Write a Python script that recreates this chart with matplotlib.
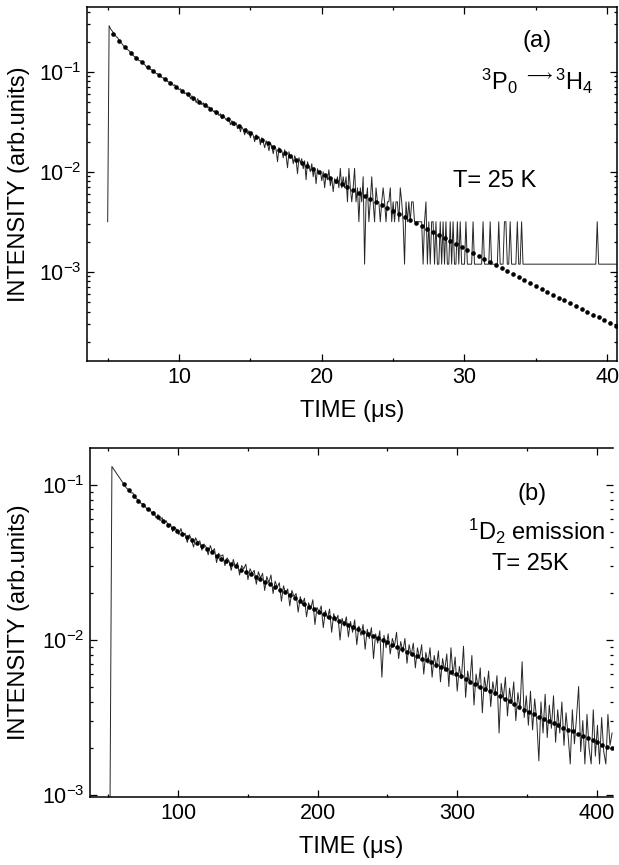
import numpy as np
import matplotlib.pyplot as plt
from matplotlib.ticker import MultipleLocator, LogLocator, NullFormatter

plt.rcParams['font.family'] = ['Liberation Sans', 'DejaVu Sans']
plt.rcParams['mathtext.fontset'] = 'custom'
plt.rcParams['mathtext.rm'] = 'Liberation Sans'
plt.rcParams['mathtext.it'] = 'Liberation Sans:italic'
plt.rcParams['mathtext.bf'] = 'Liberation Sans:bold'
plt.rcParams['axes.unicode_minus'] = False

# ---- panel (a): 3P0 -> 3H4, T = 25 K ----
# measured trace, sampled every 0.1 us from 5.0 us (log10 of intensity) ...
trace_a_start, trace_a_step = 5.0, 0.1
trace_a_log = [
    -2.50, -0.54, -0.57, -0.59, -0.61, -0.63, -0.65, -0.66, -0.69, -0.70,
    -0.72, -0.74, -0.75, -0.77, -0.78, -0.79, -0.81, -0.82, -0.84, -0.85,
    -0.86, -0.87, -0.89, -0.89, -0.91, -0.92, -0.93, -0.95, -0.95, -0.96,
    -0.98, -0.98, -1.00, -1.00, -1.02, -1.02, -1.04, -1.04, -1.06, -1.06,
    -1.08, -1.07, -1.10, -1.10, -1.12, -1.11, -1.14, -1.13, -1.16, -1.16,
    -1.18, -1.17, -1.20, -1.19, -1.22, -1.21, -1.24, -1.23, -1.27, -1.24,
    -1.29, -1.26, -1.31, -1.27, -1.30, -1.30, -1.33, -1.31, -1.35, -1.32,
    -1.36, -1.35, -1.39, -1.36, -1.40, -1.39, -1.43, -1.40, -1.44, -1.42,
    -1.47, -1.43, -1.46, -1.48, -1.49, -1.47, -1.53, -1.49, -1.52, -1.54,
    -1.51, -1.57, -1.53, -1.60, -1.55, -1.58, -1.63, -1.57, -1.62, -1.59,
    -1.66, -1.60, -1.64, -1.70, -1.63, -1.67, -1.65, -1.73, -1.66, -1.70,
    -1.76, -1.69, -1.72, -1.79, -1.71, -1.75, -1.82, -1.74, -1.78, -1.90,
    -1.76, -1.81, -1.79, -1.86, -1.78, -1.84, -1.96, -1.80, -1.86, -1.83,
    -1.92, -1.84, -1.88, -2.02, -1.86, -1.91, -1.87, -1.97, -1.89, -2.08,
    -1.90, -1.95, -2.00, -1.92, -2.05, -1.96, -2.12, -1.97, -2.02, -1.99,
    -2.09, -2.00, -2.16, -2.03, -2.08, -1.98, -2.14, -2.06, -2.20, -2.07,
    -2.12,
]
# ... then the photon-counting levels from 21.1 us on
count_levels_a = [1.19e-3, 3.16e-3, 5.0e-3, 6.9e-3, 8.9e-3, 1.08e-2]
trace_a_level = [
    5, 4, 6, 4, 5, 4, 5, 3, 6,
    4, 3, 4, 6, 3, 4, 2, 4, 3, 5,
    1, 3, 4, 2, 3, 5, 3, 2, 4, 3,
    3, 2, 3, 4, 3, 2, 3, 3, 4, 2,
    3, 2, 3, 3, 2, 4, 3, 2, 1, 3,
    2, 3, 2, 3, 3, 2, 2, 2, 2, 2,
    2, 1, 2, 3, 1, 2, 1, 2, 2, 1,
    2, 1, 1, 2, 1, 2, 1, 2, 1, 1,
    2, 1, 2, 1, 1, 2, 1, 2, 1, 1,
    1, 2, 1, 1, 1, 1, 2, 1, 1, 1,
    1, 1, 1, 2, 1, 1, 1, 1, 2, 1,
    1, 1, 1, 1, 2, 1, 1, 1, 2, 2,
    1, 1, 2, 1, 1, 1, 1, 2, 1, 1,
    2, 1, 1, 1, 1, 1, 1, 1, 1, 1,
    1, 1, 1, 1, 1, 1, 1, 1, 1, 1,
    1, 1, 1, 1, 1, 1, 1, 1, 1, 1,
    1, 1, 1, 1, 1, 1, 1, 1, 1, 1,
    1, 1, 1, 1, 1, 1, 1, 1, 1, 1,
    1, 1, 1, 2, 1, 1, 1, 1, 1, 1,
    1, 1, 1, 1, 1, 1, 1, 1,
]
# fit (dots), every 0.4 us from 5.4 us, log10 of intensity
fit_a_start, fit_a_step = 5.4, 0.4
fit_a_log = [
    -0.62, -0.69, -0.755, -0.81, -0.86, -0.905, -0.95, -0.99, -1.03, -1.07,
    -1.11, -1.15, -1.19, -1.225, -1.26, -1.30, -1.335, -1.37, -1.405, -1.44,
    -1.475, -1.51, -1.545, -1.58, -1.615, -1.65, -1.68, -1.715, -1.75, -1.78,
    -1.815, -1.845, -1.88, -1.91, -1.94, -1.975, -2.005, -2.035, -2.065, -2.095,
    -2.125, -2.155, -2.185, -2.215, -2.245, -2.275, -2.305, -2.335, -2.36, -2.39,
    -2.42, -2.45, -2.48, -2.51, -2.54, -2.57, -2.605, -2.635, -2.665, -2.695,
    -2.725, -2.755, -2.785, -2.815, -2.845, -2.875, -2.905, -2.935, -2.965, -2.995,
    -3.025, -3.055, -3.085, -3.115, -3.145, -3.175, -3.20, -3.23, -3.26, -3.285,
    -3.315, -3.345, -3.37, -3.40, -3.43, -3.455, -3.485, -3.51, -3.54,
]

# ---- panel (b): 1D2 emission, T = 25 K ----
trace_b_start, trace_b_step = 51.0, 1.5
trace_b_log = [
    -3.30, -0.88, -0.90, -0.92, -0.94, -0.96, -0.98, -1.00, -1.02, -1.03,
    -1.05, -1.05, -1.08, -1.09, -1.10, -1.12, -1.12, -1.14, -1.16, -1.15,
    -1.18, -1.17, -1.21, -1.19, -1.23, -1.21, -1.25, -1.23, -1.27, -1.25,
    -1.30, -1.27, -1.29, -1.32, -1.28, -1.33, -1.31, -1.37, -1.32, -1.35,
    -1.40, -1.34, -1.37, -1.36, -1.42, -1.38, -1.40, -1.45, -1.39, -1.43,
    -1.41, -1.50, -1.44, -1.46, -1.45, -1.52, -1.47, -1.49, -1.55, -1.48,
    -1.53, -1.50, -1.58, -1.52, -1.54, -1.51, -1.61, -1.54, -1.57, -1.55,
    -1.64, -1.56, -1.60, -1.57, -1.68, -1.59, -1.63, -1.58, -1.70, -1.62,
    -1.66, -1.63, -1.75, -1.65, -1.70, -1.67, -1.78, -1.68, -1.72, -1.70,
    -1.82, -1.72, -1.77, -1.73, -1.85, -1.76, -1.80, -1.74, -1.90, -1.79,
    -1.82, -1.78, -1.92, -1.81, -1.86, -1.80, -1.95, -1.83, -1.88, -1.84,
    -2.00, -1.86, -1.91, -1.85, -1.98, -1.88, -1.95, -1.87, -2.03, -1.91,
    -1.97, -1.90, -2.06, -1.93, -1.99, -1.92, -2.12, -1.96, -2.02, -1.94,
    -2.24, -1.97, -2.05, -1.96, -2.09, -1.99, -2.04, -1.95, -2.12, -2.01,
    -2.08, -1.99, -2.15, -2.03, -2.10, -2.02, -2.18, -2.05, -2.12, -2.03,
    -2.22, -2.08, -2.15, -2.05, -2.24, -2.10, -2.18, -2.07, -2.27, -2.12,
    -2.20, -2.09, -2.30, -2.05, -2.23, -2.11, -2.33, -2.17, -2.25, -2.04,
    -2.37, -2.20, -2.28, -2.10, -2.42, -2.22, -2.31, -2.18, -2.47, -2.24,
    -2.33, -2.20, -2.43, -2.27, -2.36, -2.23, -2.60, -2.28, -2.38, -2.24,
    -2.49, -2.31, -2.41, -2.27, -2.52, -2.34, -2.45, -2.14, -2.50, -2.36,
    -2.55, -2.33, -2.58, -2.38, -2.52, -2.78, -2.40, -2.60, -2.35, -2.63,
    -2.42, -2.57, -2.36, -2.66, -2.45, -2.60, -2.40, -2.68, -2.47, -2.62,
    -2.80, -2.45, -2.67, -2.50, -2.30, -2.72, -2.52, -2.80, -2.48, -2.70,
    -2.80, -2.45, -2.75, -2.55, -2.80, -2.50, -2.72, -2.80, -2.48, -2.68,
    -2.60,
]
fit_b_start, fit_b_step = 61.0, 3.5
fit_b_log = [
    -0.99, -1.03, -1.07, -1.10, -1.13, -1.155, -1.18, -1.205, -1.23, -1.255,
    -1.275, -1.295, -1.315, -1.335, -1.355, -1.375, -1.395, -1.415, -1.435, -1.455,
    -1.475, -1.49, -1.51, -1.525, -1.545, -1.56, -1.575, -1.59, -1.605, -1.625,
    -1.64, -1.66, -1.675, -1.69, -1.71, -1.73, -1.745, -1.765, -1.785, -1.80,
    -1.82, -1.835, -1.85, -1.86, -1.875, -1.89, -1.905, -1.915, -1.93, -1.945,
    -1.96, -1.975, -1.985, -2.00, -2.015, -2.03, -2.045, -2.06, -2.075, -2.09,
    -2.105, -2.12, -2.13, -2.145, -2.16, -2.175, -2.19, -2.205, -2.22, -2.235,
    -2.25, -2.27, -2.285, -2.30, -2.315, -2.33, -2.345, -2.36, -2.38, -2.395,
    -2.415, -2.43, -2.45, -2.465, -2.48, -2.495, -2.51, -2.525, -2.535, -2.55,
    -2.565, -2.58, -2.59, -2.605, -2.62, -2.635, -2.645, -2.66, -2.675, -2.69,
    -2.70,
]

# build the series
trace_a = np.concatenate([10.0 ** np.array(trace_a_log),
                          np.array(count_levels_a)[np.array(trace_a_level) - 1]])
t_trace_a = trace_a_start + trace_a_step * np.arange(len(trace_a))
fit_a = 10.0 ** np.array(fit_a_log)
t_fit_a = fit_a_start + fit_a_step * np.arange(len(fit_a))

trace_b = 10.0 ** np.array(trace_b_log)
t_trace_b = trace_b_start + trace_b_step * np.arange(len(trace_b))
fit_b = 10.0 ** np.array(fit_b_log)
t_fit_b = fit_b_start + fit_b_step * np.arange(len(fit_b))

W, H = 619, 865
fig = plt.figure(figsize=(W / 100, H / 100), dpi=100)

# axes boxes in pixels: left, top, right, bottom
box_a = (86.7, 6.7, 617.5, 361.0)
box_b = (90.0, 448.3, 612.8, 797.0)


def add_box(b):
    l, t, r, bt = b
    return fig.add_axes([l / W, 1 - bt / H, (r - l) / W, (bt - t) / H])


def style(ax, xmajor, xminor):
    ax.set_yscale('log')
    ax.xaxis.set_major_locator(MultipleLocator(xmajor))
    ax.xaxis.set_minor_locator(MultipleLocator(xminor))
    ax.yaxis.set_major_locator(LogLocator(base=10, numticks=12))
    ax.yaxis.set_minor_locator(LogLocator(base=10, subs=np.arange(2, 10), numticks=12))
    ax.yaxis.set_minor_formatter(NullFormatter())
    ax.tick_params(which='both', direction='in', top=True, right=True,
                   labelsize=15.5, width=0.9, pad=4)
    ax.tick_params(which='major', length=5)
    ax.tick_params(which='minor', length=2.5)
    for s in ax.spines.values():
        s.set_linewidth(1.1)
    ax.set_xlabel('TIME (\u03bcs)', fontsize=17)
    ax.set_ylabel('INTENSITY (arb.units)', fontsize=17)


arrow_label = r'$^{3}$P$_{0}$ $^{\longrightarrow 3}$H$_{4}$'

# panel (a)
ax1 = add_box(box_a)
ax1.plot(t_trace_a, trace_a, color='#262626', lw=0.7)
ax1.plot(t_fit_a, fit_a, 'o', color='black', ms=3.3, mew=0)
style(ax1, 10, 5)
ax1.set_xlim(3.53, 40.72)
ax1.set_ylim(1.28e-4, 0.447)
ax1.xaxis.set_label_coords(0.5, -0.11)
ax1.yaxis.set_label_coords(-0.107, 0.5)
ax1.text(0.848, 0.886, '(a)', transform=ax1.transAxes, fontsize=17,
         ha='center', va='baseline')
ax1.text(0.849, 0.765, arrow_label,
         transform=ax1.transAxes, fontsize=17, ha='center', va='baseline')
ax1.text(0.769, 0.491, 'T= 25 K', transform=ax1.transAxes, fontsize=17,
         ha='center', va='baseline')

# panel (b)
ax2 = add_box(box_b)
ax2.plot(t_trace_b, trace_b, color='#262626', lw=0.7)
ax2.plot(t_fit_b, fit_b, 'o', color='black', ms=3.3, mew=0)
style(ax2, 100, 50)
ax2.spines['right'].set_visible(False)
ax2.set_xlim(36.8, 411.5)
ax2.set_ylim(9.7e-4, 0.1728)
ax2.xaxis.set_label_coords(0.5, -0.112)
ax2.yaxis.set_label_coords(-0.115, 0.5)
ax2.text(0.845, 0.852, '(b)', transform=ax2.transAxes, fontsize=17,
         ha='center', va='baseline')
ax2.text(0.854, 0.737, r'$^{1}$D$_{2}$ emission', transform=ax2.transAxes,
         fontsize=17, ha='center', va='baseline')
ax2.text(0.842, 0.651, 'T= 25K', transform=ax2.transAxes, fontsize=17,
         ha='center', va='baseline')

fig.savefig('out.png', dpi=100)
